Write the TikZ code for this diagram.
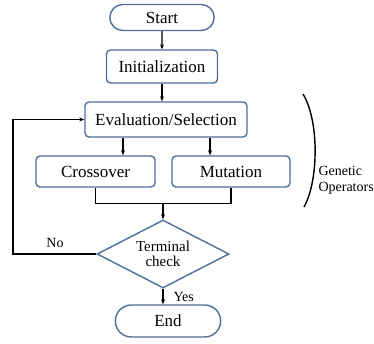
\documentclass[tikz,border=0pt]{standalone}
\usepackage{fontspec}
\setmainfont{Liberation Serif}
\usetikzlibrary{arrows.meta,positioning,shapes.misc,shapes.geometric,calc}
\definecolor{frame}{HTML}{4F6E99}
\tikzset{
  stepbox/.style={draw=frame, line width=1.4pt, rounded corners=4pt, fill=white,
                  minimum height=33pt, font=\rmfamily\fontsize{17}{19}\selectfont, align=center},
  termbox/.style={rounded rectangle, draw=frame, line width=1.4pt, fill=white,
                  minimum height=26pt, font=\rmfamily\fontsize{17}{19}\selectfont},
  checkbox/.style={diamond, aspect=2, draw=frame, line width=1.4pt, fill=white,
                   inner sep=1pt, minimum width=132pt, minimum height=68pt,
                   font=\rmfamily\fontsize{15}{17}\selectfont, align=center},
  flow/.style={-{Stealth[length=5pt,width=4pt]}, line width=1.2pt},
  link/.style={line width=1.2pt},
  tag/.style={font=\rmfamily\fontsize{14}{16}\selectfont}
}
\begin{document}
\begin{tikzpicture}[x=1pt,y=-1pt]
  \useasboundingbox (0,0) rectangle (374,343);
  % main chain
  \node[termbox, minimum width=111pt] (start) at (162,17.5) {Start};
  \node[stepbox, minimum width=111pt] (init) at (162,66.5) {Initialization};
  \node[stepbox, minimum width=162pt, minimum height=35pt] (eval) at (166,119.5) {Evaluation/Selection};
  \node[stepbox, minimum width=119pt, minimum height=31pt] (cross) at (95.5,171.5) {Crossover};
  \node[stepbox, minimum width=118pt, minimum height=31pt] (mut) at (231,171.5) {Mutation};
  \node[checkbox] (check) at (163,254) {Terminal\\[-2pt]check};
  \node[termbox, minimum width=112pt, minimum height=32pt] (stop) at (168,321) {End};
  % connectors
  \coordinate (ca) at (123,0);
  \coordinate (ma) at (210,0);
  \coordinate (loop) at (13,0);
  \draw[flow] (start) -- (init);
  \draw[flow] (init.south) -- (init.south |- eval.north);
  \draw[flow] (ca |- eval.south) -- (ca |- cross.north);
  \draw[flow] (ma |- eval.south) -- (ma |- mut.north);
  \draw[link] (cross.south) -- ++(0,16) coordinate (cj) -| (mut.south);
  \coordinate (join) at (check.north |- cj);
  \draw[flow] (join) -- (check.north);
  \draw[flow] (check.west) -- (loop |- check.west) |- (eval.west);
  \node[tag] (no) at (55,243) {No};
  \draw[flow] (check.south) -- (check.south |- stop.north);
  \node[tag, anchor=west] (yes) at (170,297) {Yes};
  % brace
  \coordinate (btop) at (303,94);
  \coordinate (bbot) at (304,207);
  \draw[line width=1.4pt] (btop) .. controls (319,120) and (319,180) .. (bbot);
  \node[tag, align=left, anchor=west] (ops) at (315,180) {Genetic\\Operators};
\end{tikzpicture}
\end{document}
